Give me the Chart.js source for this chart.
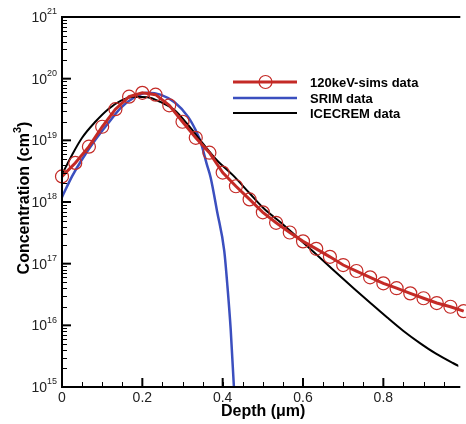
<!DOCTYPE html>
<html>
<head>
<meta charset="utf-8">
<script src="https://cdn.jsdelivr.net/npm/chart.js@4/dist/chart.umd.min.js"></script>
<style>
html,body{margin:0;padding:0;background:#fff;}
canvas{display:block;}
</style>
</head>
<body>
<canvas id="c" width="466" height="424"></canvas>
<script>
// ---- data ----
const seriesNames = ['120keV-sims data', 'SRIM data', 'ICECREM data'];

const depthSims = [0,0.033,0.067,0.1,0.133,0.167,0.2,0.233,0.267,0.3,0.333,0.367,0.4,0.433,0.467,0.5,0.533,0.567,0.6,0.633,0.667,0.7,0.733,0.767,0.8,0.833,0.867,0.9,0.933,0.967,1.0];
const concSims  = [2.6e18,4.3e18,7.9e18,1.66e19,3.2e19,5.1e19,5.9e19,5.5e19,3.7e19,2.0e19,1.1e19,6.3e18,3.0e18,1.8e18,1.1e18,6.8e17,4.6e17,3.2e17,2.3e17,1.74e17,1.29e17,9.5e16,7.6e16,6.0e16,4.8e16,4.0e16,3.3e16,2.75e16,2.3e16,2.0e16,1.7e16];

const depthSrim = [0,0.025,0.049,0.083,0.115,0.147,0.181,0.213,0.245,0.281,0.314,0.333,0.345,0.36,0.37,0.386,0.404,0.412,0.42,0.428,0.434];
const concSrim  = [1.2e18,2.6e18,4.8e18,1.02e19,1.9e19,3.4e19,5.0e19,5.9e19,5.5e19,4.1e19,2.4e19,1.45e19,9.5e18,4.2e18,2.5e18,7.1e17,1.6e17,4.2e16,8.5e15,1.0e15,3e14];

const depthIce = [0,0.025,0.05,0.083,0.115,0.147,0.18,0.213,0.245,0.28,0.315,0.353,0.385,0.426,0.466,0.502,0.549,0.588,0.63,0.672,0.728,0.77,0.809,0.85,0.892,0.931,0.973,1.0];
const concIce  = [2.8e18,5.8e18,1.1e19,2.0e19,3.2e19,4.4e19,5.1e19,5.0e19,4.2e19,3.1e19,1.74e19,8.5e18,4.8e18,2.7e18,1.41e18,7.9e17,4.4e17,2.6e17,1.48e17,8.3e16,3.9e16,2.24e16,1.35e16,8.1e15,5.1e15,3.47e15,2.45e15,2.0e15];

const yTickExponents = [15,16,17,18,19,20,21];
const xTickValues = [0,0.2,0.4,0.6,0.8];
const xTickLabels = ['0','0.2','0.4','0.6','0.8'];
const xMinorStep = 0.05;
const xTitle = 'Depth (\u03bcm)';
const yTitleMain = 'Concentration (cm';
const yTitleSup = '3';
const yTitleEnd = ')';

const FONT = '"Liberation Sans", Arial, Helvetica, sans-serif';
const RED = '#c42a26', BLUE = '#3b4fbf', BLACK = '#000000';

function pts(xs, ys){ return xs.map((v,i)=>({x:v, y:ys[i]})); }

const frame = {
  id: 'frame',
  afterDraw(chart){
    const {ctx, chartArea:a, scales:{x, y}} = chart;
    ctx.save();
    ctx.strokeStyle = '#000';
    ctx.lineWidth = 2;
    ctx.beginPath();
    ctx.moveTo(a.left, a.top); ctx.lineTo(a.right + 2, a.top);
    ctx.moveTo(a.left, a.top - 1); ctx.lineTo(a.left, a.bottom);
    ctx.lineTo(a.right + 2, a.bottom);
    ctx.stroke();

    // y ticks (inward)
    const eMax = yTickExponents[yTickExponents.length-1];
    for (const e of yTickExponents){
      const py = y.getPixelForValue(Math.pow(10, e));
      ctx.lineWidth = 2;
      ctx.beginPath(); ctx.moveTo(a.left, py); ctx.lineTo(a.left + 9, py); ctx.stroke();
      if (e < eMax){
        ctx.lineWidth = 1;
        for (let m = 2; m <= 9; m++){
          const pm = Math.round(y.getPixelForValue(m * Math.pow(10, e))) + 0.5;
          ctx.beginPath(); ctx.moveTo(a.left, pm); ctx.lineTo(a.left + 5, pm); ctx.stroke();
        }
      }
      // label 10^e
      ctx.fillStyle = '#222';
      ctx.textBaseline = 'middle';
      ctx.textAlign = 'left';
      const sup = String(e);
      ctx.font = '9px ' + FONT;
      const ws = ctx.measureText(sup).width;
      ctx.font = '14px ' + FONT;
      const wb = ctx.measureText('10').width;
      const right = a.left - 5;
      const xb = right - ws - wb;
      ctx.fillText('10', xb, py + 1);
      ctx.font = '9px ' + FONT;
      ctx.fillText(sup, xb + wb, py - 5);
    }

    // x ticks (inward)
    for (let v = 0; v <= x.max + 1e-9; v += xMinorStep){
      const px = Math.round(x.getPixelForValue(v)) + 0.5;
      ctx.lineWidth = 1;
      ctx.beginPath(); ctx.moveTo(px, a.bottom); ctx.lineTo(px, a.bottom - 5); ctx.stroke();
    }
    ctx.font = '14px ' + FONT;
    ctx.fillStyle = '#222';
    ctx.textAlign = 'center';
    ctx.textBaseline = 'middle';
    xTickValues.forEach((v, i) => {
      const px = x.getPixelForValue(v);
      ctx.lineWidth = 2;
      ctx.beginPath(); ctx.moveTo(px, a.bottom); ctx.lineTo(px, a.bottom - 9); ctx.stroke();
      ctx.fillText(xTickLabels[i], px, a.bottom + 11);
    });

    // axis titles
    ctx.fillStyle = '#000';
    ctx.font = 'bold 16px ' + FONT;
    ctx.textAlign = 'center';
    ctx.fillText(xTitle, (a.left + a.right) / 2 + 3, a.bottom + 25);

    ctx.save();
    ctx.translate(25, 198);
    ctx.rotate(-Math.PI / 2);
    ctx.font = 'bold 16px ' + FONT;
    const w1 = ctx.measureText(yTitleMain).width;
    const w3 = ctx.measureText(yTitleEnd).width;
    ctx.font = 'bold 11px ' + FONT;
    const w2 = ctx.measureText(yTitleSup).width;
    let sx = -(w1 + w2 + w3) / 2;
    ctx.textAlign = 'left';
    ctx.font = 'bold 16px ' + FONT;
    ctx.fillText(yTitleMain, sx, 0);
    ctx.font = 'bold 11px ' + FONT;
    ctx.fillText(yTitleSup, sx + w1, -7);
    ctx.font = 'bold 16px ' + FONT;
    ctx.fillText(yTitleEnd, sx + w1 + w2, 0);
    ctx.restore();

    // legend
    const rows = [82, 98, 113];
    chart.data.datasets.forEach((ds, i) => {
      const yy = rows[i];
      ctx.strokeStyle = ds.borderColor;
      ctx.lineWidth = ds.borderWidth;
      ctx.beginPath(); ctx.moveTo(233, yy); ctx.lineTo(297, yy); ctx.stroke();
      if (ds.pointRadius > 0){
        ctx.lineWidth = ds.pointBorderWidth;
        ctx.strokeStyle = ds.pointBorderColor;
        ctx.beginPath(); ctx.arc(265.5, yy, ds.pointRadius, 0, Math.PI * 2); ctx.stroke();
      }
      ctx.fillStyle = '#000';
      ctx.font = 'bold 13px ' + FONT;
      ctx.textAlign = 'left';
      ctx.textBaseline = 'middle';
      ctx.fillText(ds.label, 310, yy + 1);
    });
    ctx.restore();
  }
};

new Chart(document.getElementById('c'), {
  type: 'line',
  data: {
    datasets: [
      {
        label: seriesNames[0],
        data: pts(depthSims, concSims),
        borderColor: RED, borderWidth: 3,
        pointRadius: 6.5, pointHoverRadius: 6.5,
        pointBorderColor: RED, pointBorderWidth: 1.2,
        pointBackgroundColor: 'rgba(0,0,0,0)',
        tension: 0, clip: false, order: 0
      },
      {
        label: seriesNames[1],
        data: pts(depthSrim, concSrim),
        borderColor: BLUE, borderWidth: 2.5,
        pointRadius: 0, pointBorderWidth: 0,
        cubicInterpolationMode: 'monotone', order: 2
      },
      {
        label: seriesNames[2],
        data: pts(depthIce, concIce),
        borderColor: BLACK, borderWidth: 2,
        pointRadius: 0, pointBorderWidth: 0,
        cubicInterpolationMode: 'monotone', order: 1
      }
    ]
  },
  options: {
    responsive: false,
    animation: false,
    devicePixelRatio: 1,
    layout: { padding: { top: 17, left: 0, right: 0, bottom: 0 } },
    plugins: { legend: { display: false }, tooltip: { enabled: false } },
    scales: {
      x: {
        type: 'linear', min: 0, max: 0.9866,
        grid: { display: false, drawTicks: false },
        border: { display: false },
        ticks: { display: false },
        afterFit: s => { s.height = 37; }
      },
      y: {
        type: 'logarithmic', min: 1e15, max: 1e21,
        grid: { display: false, drawTicks: false },
        border: { display: false },
        ticks: { display: false },
        afterFit: s => { s.width = 62; }
      }
    }
  },
  plugins: [frame]
});
</script>
</body>
</html>
